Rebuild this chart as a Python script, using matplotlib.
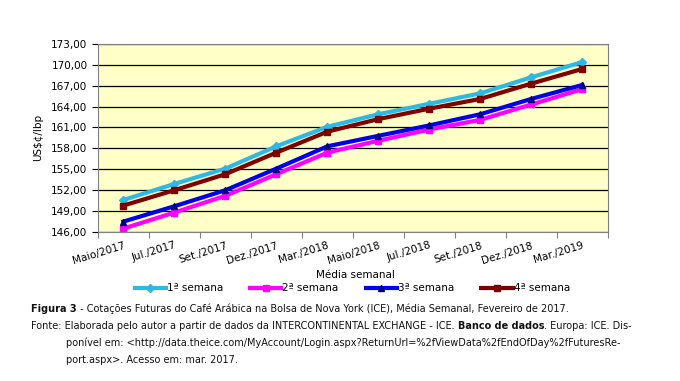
import matplotlib.pyplot as plt
from matplotlib.ticker import FuncFormatter

# dados (leitura do grafico)
meses = ["Maio/2017", "Jul./2017", "Set./2017", "Dez./2017", "Mar./2018",
         "Maio/2018", "Jul./2018", "Set./2018", "Dez./2018", "Mar./2019"]
sem1 = [150.6, 152.9, 155.1, 158.3, 161.1, 162.9, 164.4, 165.9, 168.2, 170.4]
sem2 = [146.5, 148.8, 151.2, 154.3, 157.4, 159.1, 160.7, 162.1, 164.3, 166.5]
sem3 = [147.5, 149.7, 152.0, 155.1, 158.3, 159.8, 161.3, 162.9, 165.1, 167.1]
sem4 = [149.8, 152.0, 154.3, 157.4, 160.4, 162.2, 163.7, 165.1, 167.3, 169.4]
nomes = ["1ª semana", "2ª semana", "3ª semana", "4ª semana"]
yticks = [146, 149, 152, 155, 158, 161, 164, 167, 170, 173]

fig = plt.figure(figsize=(6.8, 3.81), dpi=100)
ax = fig.add_axes([0.144, 0.391, 0.750, 0.494])
ax.set_facecolor("#FFFFC8")

x = list(range(len(meses)))
ax.plot(x, sem1, color="#2EB8E6", lw=3, marker="D", ms=4, mfc="#2EB8E6", label=nomes[0])
ax.plot(x, sem2, color="#FF00FF", lw=3, marker="s", ms=4, mfc="#FF00FF", label=nomes[1])
ax.plot(x, sem3, color="#0000F0", lw=3, marker="^", ms=5, mfc="#000080", mec="#000080", label=nomes[2])
ax.plot(x, sem4, color="#800000", lw=3, marker="s", ms=5, mfc="#800000", label=nomes[3])

ax.set_xlim(-0.5, len(meses) - 0.5)
ax.set_ylim(146, 173)
ax.set_yticks(yticks)
ax.yaxis.set_major_formatter(FuncFormatter(lambda v, p: f"{v:.2f}".replace(".", ",")))
ax.yaxis.grid(True, color="black", lw=0.9)
ax.set_axisbelow(True)

ax.set_xticks([i - 0.5 for i in range(len(meses) + 1)])
ax.set_xticklabels([])
ax.set_xticks(x, minor=True)
ax.set_xticklabels(meses, minor=True, rotation=17, ha="right", rotation_mode="anchor", fontsize=7.5)
ax.tick_params(axis="x", which="minor", length=0, pad=6)
ax.tick_params(axis="x", which="major", length=4, color="#808080")
ax.tick_params(axis="y", labelsize=7.5, length=4, color="black")
for s in ax.spines.values():
    s.set_color("#808080")

ax.set_ylabel("US$¢/lbp", fontsize=7.5, labelpad=6)
fig.text(0.522, 0.278, "Média semanal", ha="center", va="center", fontsize=7.5)
ax.legend(loc="center", bbox_to_anchor=(0.518, 0.243), bbox_transform=fig.transFigure,
          ncol=4, frameon=False, fontsize=7.5, handlelength=3, columnspacing=2.6,
          handletextpad=0.1)

# legenda da figura
fig.canvas.draw()
r = fig.canvas.get_renderer()


def linha(x0, y, partes, size=7):
    xp = x0
    for txt, peso in partes:
        t = fig.text(xp / 680, 1 - y / 381, txt, fontsize=size, fontweight=peso,
                     va="center", ha="left", color="#111111")
        xp += t.get_window_extent(r).width


linha(31, 309, [("Figura 3", "bold"),
                (" - Cotações Futuras do Café Arábica na Bolsa de Nova York (ICE), Média Semanal, Fevereiro de 2017.", "normal")])
linha(31, 326, [("Fonte: Elaborada pelo autor a partir de dados da INTERCONTINENTAL EXCHANGE - ICE. ", "normal"),
                ("Banco de dados", "bold"), (". Europa: ICE. Dis-", "normal")])
linha(66, 343, [("ponível em: <http://data.theice.com/MyAccount/Login.aspx?ReturnUrl=%2fViewData%2fEndOfDay%2fFuturesRe-", "normal")])
linha(66, 360, [("port.aspx>. Acesso em: mar. 2017.", "normal")])

fig.savefig("out.png", dpi=100)
